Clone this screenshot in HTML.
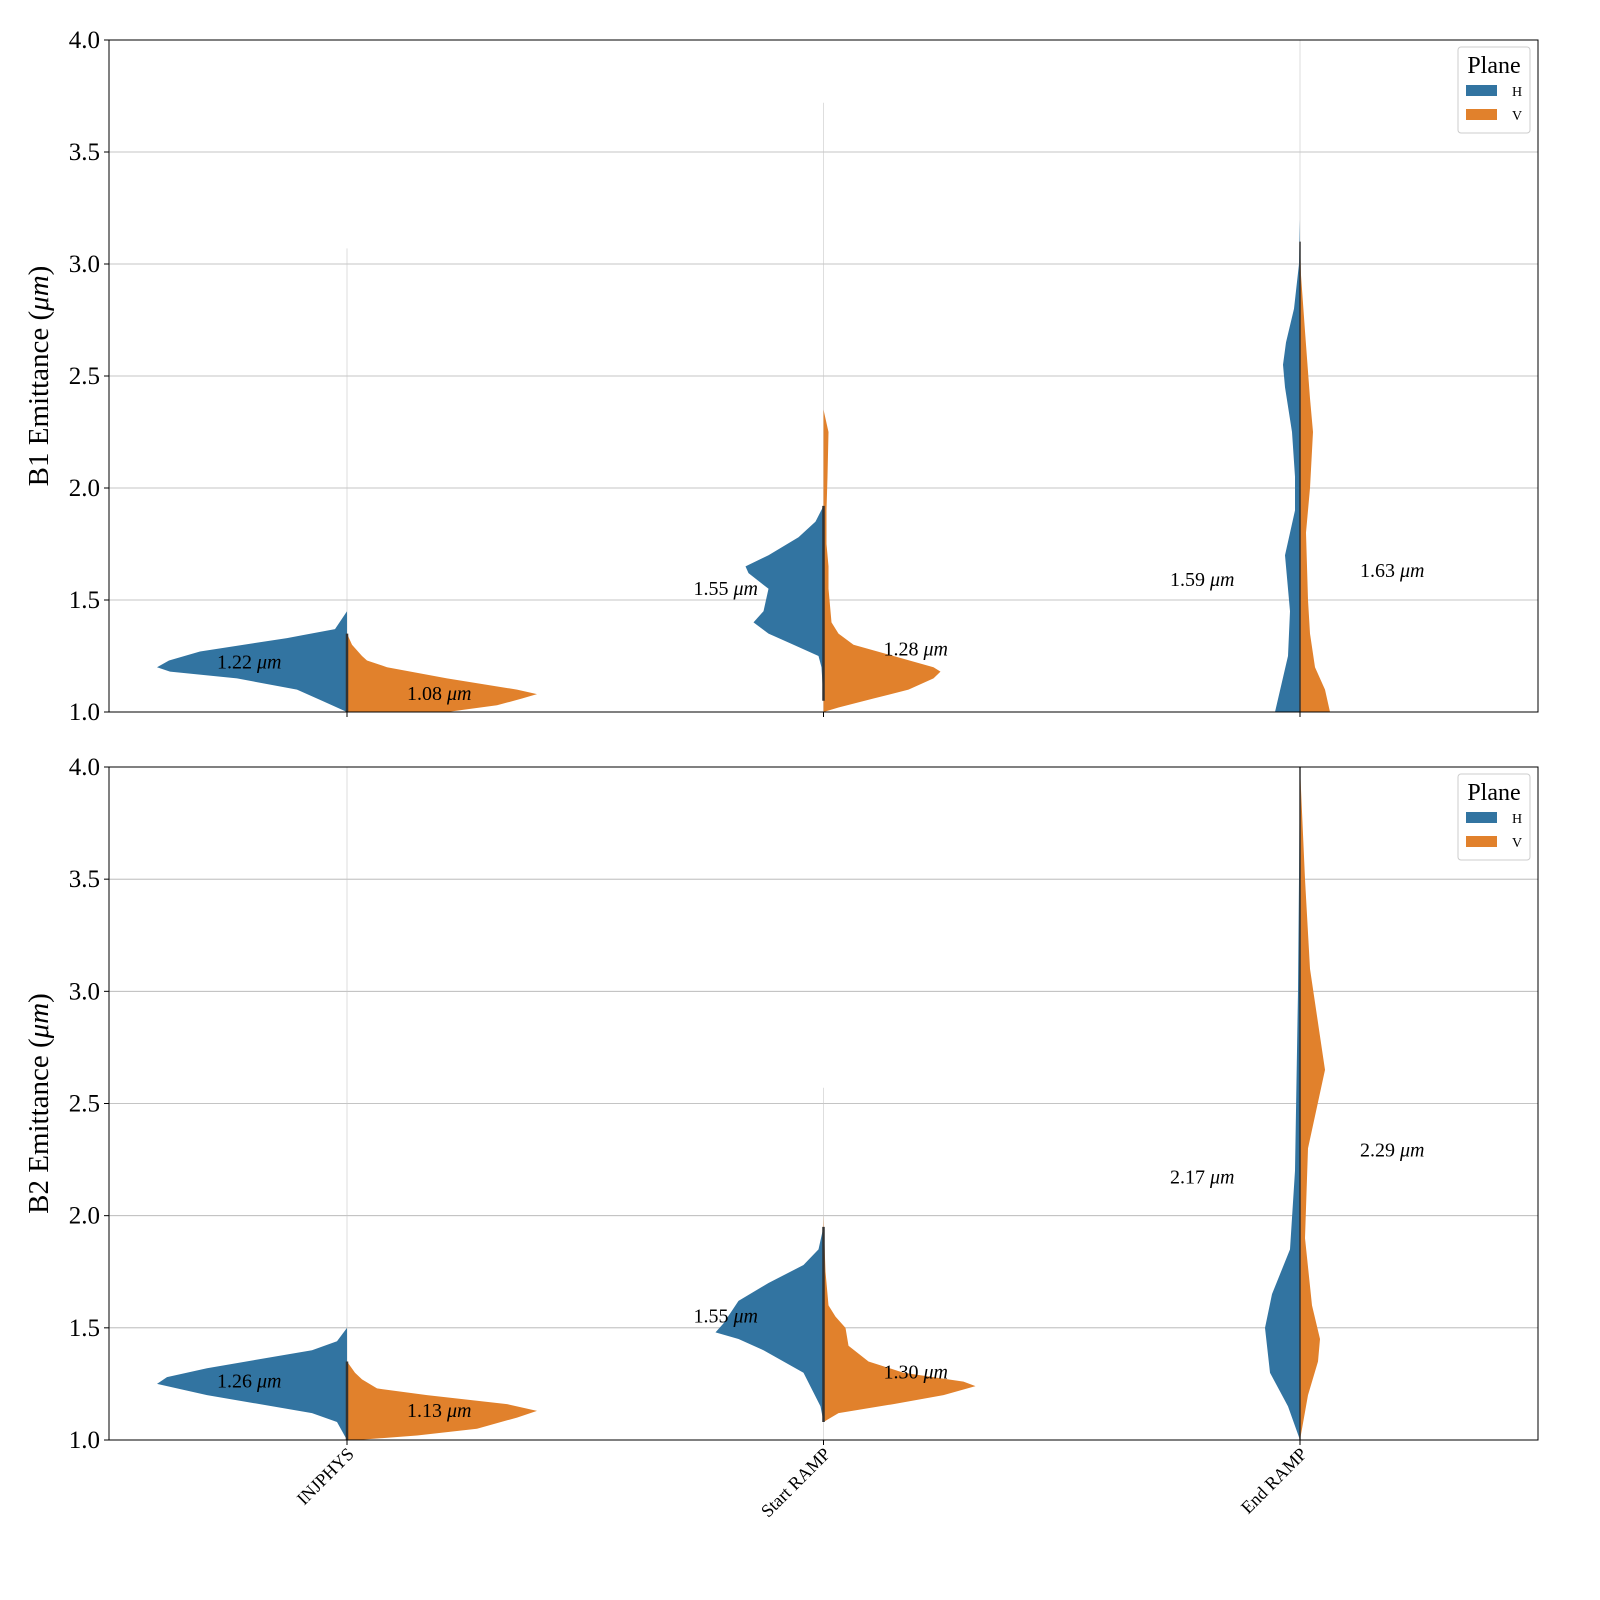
<!DOCTYPE html>
<html><head><meta charset="utf-8">
<style>
body{margin:0;background:#fff;}
svg{display:block;font-family:"Liberation Serif","DejaVu Serif",serif;}
</style></head>
<body>
<svg id="chart" width="1600" height="1600" viewBox="0 0 1600 1600" xmlns="http://www.w3.org/2000/svg"></svg>
<script>
const categories = ["INJPHYS","Start RAMP","End RAMP"];
const yTicks = [1.0,1.5,2.0,2.5,3.0,3.5,4.0];
const panelLabels = ["B1 Emittance (μm)","B2 Emittance (μm)"];
// medians printed
const b1Medians = [[1.22,1.08],[1.55,1.28],[1.59,1.63]];
const b2Medians = [[1.26,1.13],[1.55,1.30],[2.17,2.29]];
// whisker tops
const b1Max = [3.07,3.72,4.0];
const b2Max = [4.0,2.57,4.0];
// violin profiles: [value, half-width px]
const b1H = [
 [[1.0,0],[1.05,25],[1.10,50],[1.15,110],[1.18,177],[1.20,190],[1.23,178],[1.27,147],[1.33,60],[1.37,12],[1.45,0]],
 [[1.05,0],[1.2,2],[1.25,5],[1.30,30],[1.35,55],[1.40,70],[1.45,60],[1.55,55],[1.62,75],[1.65,78],[1.70,55],[1.78,25],[1.85,8],[1.92,0]],
 [[1.0,25],[1.25,12],[1.45,10],[1.70,15],[1.90,5],[2.05,5],[2.25,8],[2.45,15],[2.55,17],[2.65,14],[2.8,6],[3.0,1],[3.2,0]]
];
const b1V = [
 [[1.0,100],[1.03,150],[1.06,175],[1.08,190],[1.10,170],[1.15,100],[1.20,40],[1.23,20],[1.25,15],[1.3,5],[1.35,0]],
 [[1.0,0],[1.02,15],[1.06,50],[1.10,85],[1.15,110],[1.18,117],[1.20,110],[1.25,70],[1.30,30],[1.35,15],[1.40,8],[1.55,5],[1.65,5],[1.75,3],[1.9,3],[2.05,4],[2.25,5],[2.35,0]],
 [[1.0,30],[1.1,25],[1.2,15],[1.35,10],[1.5,8],[1.8,6],[2.0,10],[2.25,13],[2.4,10],[2.7,5],[2.95,1],[3.1,0]]
];
const b2H = [
 [[1.0,0],[1.08,10],[1.12,35],[1.20,140],[1.25,190],[1.28,180],[1.32,140],[1.40,35],[1.44,10],[1.50,0]],
 [[1.08,0],[1.15,3],[1.30,20],[1.40,60],[1.45,85],[1.48,108],[1.52,100],[1.62,85],[1.70,55],[1.78,20],[1.85,5],[1.95,0]],
 [[1.0,0],[1.15,12],[1.3,30],[1.5,35],[1.65,28],[1.85,10],[2.2,5],[3.0,2],[3.5,1],[4.0,0]]
];
const b2V = [
 [[1.0,10],[1.02,70],[1.05,130],[1.10,170],[1.13,190],[1.16,160],[1.20,80],[1.23,30],[1.27,15],[1.3,8],[1.35,0]],
 [[1.08,0],[1.12,15],[1.16,70],[1.20,120],[1.24,152],[1.26,140],[1.30,80],[1.35,45],[1.42,25],[1.50,22],[1.55,12],[1.60,5],[1.75,2],[2.0,0]],
 [[1.0,0],[1.2,8],[1.35,18],[1.45,20],[1.6,12],[1.9,5],[2.3,8],[2.65,25],[2.8,20],[3.1,10],[3.5,5],[3.8,2],[4.0,0]]
];
const NS="http://www.w3.org/2000/svg";
const svg=document.getElementById('chart');
function mk(tag,attrs,parent){const e=document.createElementNS(NS,tag);for(const k in attrs)e.setAttribute(k,attrs[k]);(parent||svg).appendChild(e);return e;}
const X0=109,X1=1538;
const catX=i=>347+i*476.5;
const panels=[{top:40,bot:712,H:b1H,V:b1V,med:b1Medians,mx:b1Max},{top:767,bot:1440,H:b2H,V:b2V,med:b2Medians,mx:b2Max}];
panels.forEach((p,pi)=>{
 const y=v=>p.bot-(v-1)/3*(p.bot-p.top);
 const g=mk('g',{});
 
 
 yTicks.forEach(t=>{
  const l=mk('line',{x1:X0,x2:X1,y1:y(t),y2:y(t),stroke:'#b0b0b0','stroke-width':0.8},g);
  
  
  mk('line',{x1:X0-5,x2:X0,y1:y(t),y2:y(t),stroke:'#000'},g);
  const tx=mk('text',{x:X0-9,y:y(t)+8,'text-anchor':'end','font-size':25},g);
  tx.textContent=t.toFixed(1);
  
  
 });
 categories.forEach((c,i)=>{
  const cx=catX(i);
  const w=mk('line',{x1:cx,x2:cx,y1:y(1),y2:y(p.mx[i]),stroke:'#c8c8c8','stroke-width':0.6},g);
  
  
  const pathFor=(prof,sign)=>{
   let d=`M${cx},${y(prof[0][0])}`;
   prof.forEach(pt=>{d+=` L${cx+sign*pt[1]},${y(pt[0])}`;});
   d+=` L${cx},${y(prof[prof.length-1][0])} Z`;return d;};
  const h=mk('path',{d:pathFor(p.H[i],-1),fill:'#3274a1'},g);
  
  
  const v=mk('path',{d:pathFor(p.V[i],1),fill:'#e1812c'},g);
  
  
  const lo=Math.max(p.H[i][0][0],1),hi=Math.min(p.H[i][p.H[i].length-1][0],p.V[i][p.V[i].length-1][0]);
  mk('line',{x1:cx,x2:cx,y1:y(lo),y2:y(hi),stroke:'#333','stroke-width':i==2?1.5:2.5},g);
  mk('line',{x1:cx,x2:cx,y1:p.bot,y2:p.bot+5,stroke:'#000'},g);
  const m=p.med[i];
  const th=mk('text',{x:cx-130,y:y(m[0])+6,'font-size':20},g);
  th.innerHTML=m[0].toFixed(2)+' <tspan font-style="italic">μm</tspan>';
  
  
  const tv=mk('text',{x:cx+60,y:y(m[1])+6,'font-size':20},g);
  tv.innerHTML=m[1].toFixed(2)+' <tspan font-style="italic">μm</tspan>';
  
  
 });
 mk('rect',{x:X0,y:p.top,width:X1-X0,height:p.bot-p.top,fill:'none',stroke:'#000','stroke-width':1},g);
 const yl=mk('text',{x:0,y:0,'font-size':29,'text-anchor':'middle',transform:`translate(48,${(p.top+p.bot)/2}) rotate(-90)`},g);
 yl.innerHTML=panelLabels[pi].replace('μm','<tspan font-style="italic">μm</tspan>');
 
 
 const lg=mk('g',{},g);
 
 
 mk('rect',{x:1458,y:p.top+7,width:72,height:86,rx:3,fill:'#fff',stroke:'#ccc'},lg);
 const lt=mk('text',{x:1494,y:p.top+33,'font-size':24,'text-anchor':'middle'},lg);lt.textContent='Plane';
 [['H','#3274a1'],['V','#e1812c']].forEach((e,k)=>{
  mk('rect',{x:1466,y:p.top+45+k*24,width:31,height:11,fill:e[1]},lg);
  const t=mk('text',{x:1512,y:p.top+56+k*24,'font-size':14},lg);t.textContent=e[0];
 });
});
categories.forEach((c,i)=>{
 const t=mk('text',{x:0,y:0,'font-size':18,'text-anchor':'end',transform:`translate(${catX(i)+8},${1455}) rotate(-45)`});
 t.textContent=c;
 
 
});
</script>
</body></html>
